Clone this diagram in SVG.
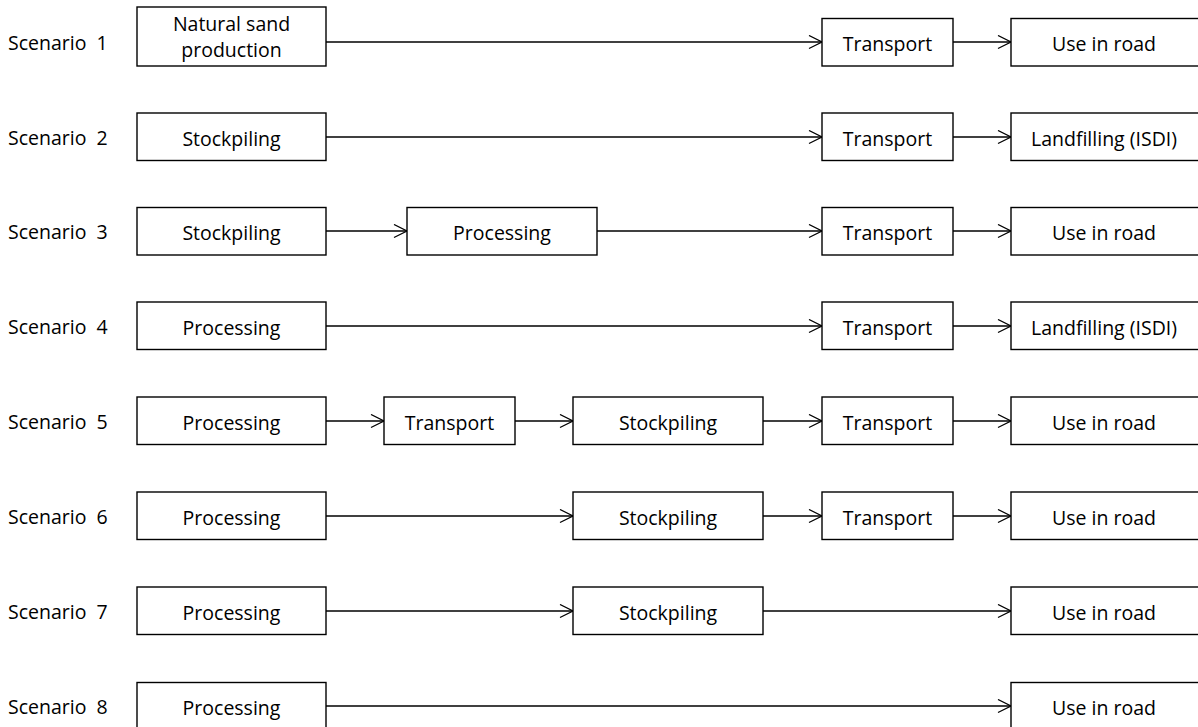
<svg xmlns="http://www.w3.org/2000/svg" width="1198" height="727" viewBox="0 0 1198 727">
<style>
.box{fill:#fff;stroke:#000;stroke-width:1.4}
.t{font-family:"Open Sans","Liberation Sans",Arial,sans-serif;font-size:19.5px;fill:#000;text-anchor:middle}
.s{font-family:"Open Sans","Liberation Sans",Arial,sans-serif;font-size:19.5px;fill:#000;word-spacing:5px}
.c{stroke:#000;stroke-width:1.3;fill:none;marker-end:url(#ah)}
</style>
<defs>
<marker id="ah" markerUnits="userSpaceOnUse" markerWidth="16" markerHeight="16" refX="14" refY="7.5" orient="auto">
<path d="M1,1 L14,7.5 L1,14" fill="none" stroke="#000" stroke-width="1.3"/>
</marker>
</defs>
<g id="labels">
<text class="s" x="8" y="50">Scenario 1</text>
<text class="s" x="8" y="145">Scenario 2</text>
<text class="s" x="8" y="239">Scenario 3</text>
<text class="s" x="8" y="334">Scenario 4</text>
<text class="s" x="8" y="429">Scenario 5</text>
<text class="s" x="8" y="524">Scenario 6</text>
<text class="s" x="8" y="619">Scenario 7</text>
<text class="s" x="8" y="714">Scenario 8</text>
</g>
<g id="connectors">
<line class="c" x1="326" y1="42" x2="822" y2="42"/>
<line class="c" x1="953" y1="42" x2="1011" y2="42"/>
<line class="c" x1="326" y1="137" x2="822" y2="137"/>
<line class="c" x1="953" y1="137" x2="1011" y2="137"/>
<line class="c" x1="326" y1="231" x2="407" y2="231"/>
<line class="c" x1="597" y1="231" x2="822" y2="231"/>
<line class="c" x1="953" y1="231" x2="1011" y2="231"/>
<line class="c" x1="326" y1="326" x2="822" y2="326"/>
<line class="c" x1="953" y1="326" x2="1011" y2="326"/>
<line class="c" x1="326" y1="421" x2="384" y2="421"/>
<line class="c" x1="515" y1="421" x2="573" y2="421"/>
<line class="c" x1="763" y1="421" x2="822" y2="421"/>
<line class="c" x1="953" y1="421" x2="1011" y2="421"/>
<line class="c" x1="326" y1="516" x2="573" y2="516"/>
<line class="c" x1="763" y1="516" x2="822" y2="516"/>
<line class="c" x1="953" y1="516" x2="1011" y2="516"/>
<line class="c" x1="326" y1="611" x2="573" y2="611"/>
<line class="c" x1="763" y1="611" x2="1011" y2="611"/>
<line class="c" x1="326" y1="706" x2="1011" y2="706"/>
</g>
<g id="r1n1"><rect class="box" x="137" y="7" width="189" height="59"/><text class="t" x="231.5" y="31">Natural sand</text><text class="t" x="231.5" y="57">production</text></g>
<g id="r1n2"><rect class="box" x="822" y="18.5" width="131" height="47.5"/><text class="t" x="887.5" y="51">Transport</text></g>
<g id="r1n3"><rect class="box" x="1011" y="18.5" width="190" height="47.5"/><text class="t" x="1104" y="51">Use in road</text></g>
<g id="r2n1"><rect class="box" x="137" y="113" width="189" height="47.5"/><text class="t" x="231.5" y="146">Stockpiling</text></g>
<g id="r2n2"><rect class="box" x="822" y="113" width="131" height="47.5"/><text class="t" x="887.5" y="146">Transport</text></g>
<g id="r2n3"><rect class="box" x="1011" y="113" width="190" height="47.5"/><text class="t" x="1104" y="146">Landfilling (ISDI)</text></g>
<g id="r3n1"><rect class="box" x="137" y="207.5" width="189" height="47.5"/><text class="t" x="231.5" y="240">Stockpiling</text></g>
<g id="r3n2"><rect class="box" x="407" y="207.5" width="190" height="47.5"/><text class="t" x="502" y="240">Processing</text></g>
<g id="r3n3"><rect class="box" x="822" y="207.5" width="131" height="47.5"/><text class="t" x="887.5" y="240">Transport</text></g>
<g id="r3n4"><rect class="box" x="1011" y="207.5" width="190" height="47.5"/><text class="t" x="1104" y="240">Use in road</text></g>
<g id="r4n1"><rect class="box" x="137" y="302" width="189" height="47.5"/><text class="t" x="231.5" y="335">Processing</text></g>
<g id="r4n2"><rect class="box" x="822" y="302" width="131" height="47.5"/><text class="t" x="887.5" y="335">Transport</text></g>
<g id="r4n3"><rect class="box" x="1011" y="302" width="190" height="47.5"/><text class="t" x="1104" y="335">Landfilling (ISDI)</text></g>
<g id="r5n1"><rect class="box" x="137" y="397" width="189" height="47.5"/><text class="t" x="231.5" y="430">Processing</text></g>
<g id="r5n2"><rect class="box" x="384" y="397" width="131" height="47.5"/><text class="t" x="449.5" y="430">Transport</text></g>
<g id="r5n3"><rect class="box" x="573" y="397" width="190" height="47.5"/><text class="t" x="668" y="430">Stockpiling</text></g>
<g id="r5n4"><rect class="box" x="822" y="397" width="131" height="47.5"/><text class="t" x="887.5" y="430">Transport</text></g>
<g id="r5n5"><rect class="box" x="1011" y="397" width="190" height="47.5"/><text class="t" x="1104" y="430">Use in road</text></g>
<g id="r6n1"><rect class="box" x="137" y="492" width="189" height="47.5"/><text class="t" x="231.5" y="525">Processing</text></g>
<g id="r6n2"><rect class="box" x="573" y="492" width="190" height="47.5"/><text class="t" x="668" y="525">Stockpiling</text></g>
<g id="r6n3"><rect class="box" x="822" y="492" width="131" height="47.5"/><text class="t" x="887.5" y="525">Transport</text></g>
<g id="r6n4"><rect class="box" x="1011" y="492" width="190" height="47.5"/><text class="t" x="1104" y="525">Use in road</text></g>
<g id="r7n1"><rect class="box" x="137" y="587" width="189" height="47.5"/><text class="t" x="231.5" y="620">Processing</text></g>
<g id="r7n2"><rect class="box" x="573" y="587" width="190" height="47.5"/><text class="t" x="668" y="620">Stockpiling</text></g>
<g id="r7n3"><rect class="box" x="1011" y="587" width="190" height="47.5"/><text class="t" x="1104" y="620">Use in road</text></g>
<g id="r8n1"><rect class="box" x="137" y="682.5" width="189" height="47.5"/><text class="t" x="231.5" y="715">Processing</text></g>
<g id="r8n2"><rect class="box" x="1011" y="682.5" width="190" height="47.5"/><text class="t" x="1104" y="715">Use in road</text></g>
</svg>
